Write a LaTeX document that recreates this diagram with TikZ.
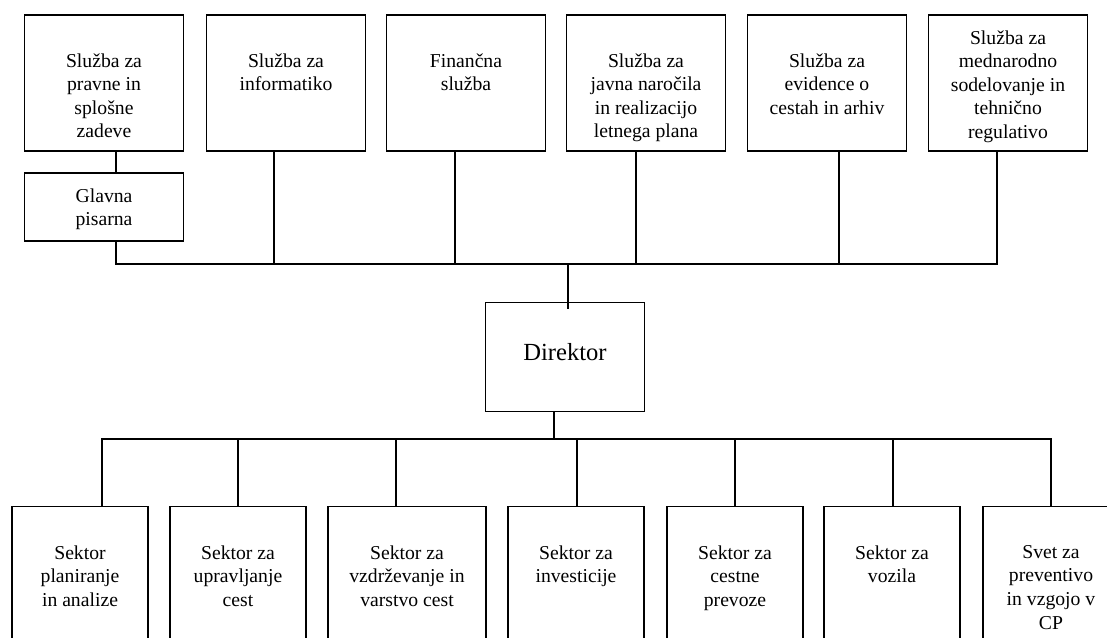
\documentclass[tikz,border=0pt]{standalone}
\usepackage{fontspec}
\setmainfont{Liberation Serif}

\tikzset{
  wire/.style={line width=0.9pt},
  unit/.style={draw, line width=0.9pt, inner sep=0pt, minimum width=3.18cm},
  sluzba/.style={unit, minimum height=2.72cm},
  sektor/.style={unit, minimum width=2.72cm, minimum height=3.06cm},
  lbl/.style={align=center, inner sep=0pt, anchor=north, font=\fontsize{11.2}{13.4}\selectfont},
}

\begin{document}
\begin{tikzpicture}[x=0.02cm, y=-0.02cm]
    \useasboundingbox (0,0) rectangle (1107,637);
    \clip (0,0) rectangle (1107,637);

    % Službe (zgornja vrsta)
    \node[sluzba] (s1) at (104,83) {};
    \node[sluzba] (s2) at (286,83) {};
    \node[sluzba] (s3) at (466,83) {};
    \node[sluzba] (s4) at (646,83) {};
    \node[sluzba] (s5) at (827,83) {};
    \node[sluzba] (s6) at (1008,83) {};
    \node[unit, minimum height=1.36cm] (gp) at (104,207) {};

    \node[lbl] (s1l) at (104,53) {Služba za\\pravne in\\splošne\\zadeve};
    \node[lbl] (s2l) at (286,53) {Služba za\\informatiko};
    \node[lbl] (s3l) at (466,53) {Finančna\\služba};
    \node[lbl] (s4l) at (646,53) {Služba za\\javna naročila\\in realizacijo\\letnega plana};
    \node[lbl] (s5l) at (827,53) {Služba za\\evidence o\\cestah in arhiv};
    \node[lbl] (s6l) at (1008,30) {Služba za\\mednarodno\\sodelovanje in\\tehnično\\regulativo};
    \node[lbl] (gpl) at (104,188) {Glavna\\pisarna};

    % Direktor
    \node[unit, minimum height=2.18cm, text depth=0.2cm,
          font=\fontsize{14}{17}\selectfont] (dir) at (565,357) {Direktor};

    % Sektorji (spodnja vrsta)
    \node[sektor] (k1) at (80,583) {};
    \node[sektor] (k2) at (238,583) {};
    \node[sektor, minimum width=3.16cm] (k3) at (407,583) {};
    \node[sektor] (k4) at (576,583) {};
    \node[sektor] (k5) at (735,583) {};
    \node[sektor] (k6) at (892,583) {};
    \node[sektor] (k7) at (1051,583) {};

    \node[lbl] (k1l) at (80,545) {Sektor\\planiranje\\in analize};
    \node[lbl] (k2l) at (238,545) {Sektor za\\upravljanje\\cest};
    \node[lbl] (k3l) at (407,545) {Sektor za\\vzdrževanje in\\varstvo cest};
    \node[lbl] (k4l) at (576,545) {Sektor za\\investicije};
    \node[lbl] (k5l) at (735,545) {Sektor za\\cestne\\prevoze};
    \node[lbl] (k6l) at (892,545) {Sektor za\\vozila};
    \node[lbl] (k7l) at (1051,545) {Svet za\\preventivo\\in vzgojo v\\CP};

    % Povezave zgoraj
    \coordinate (a1) at (116,264);
    \coordinate (a2) at (274,264);
    \coordinate (a3) at (455,264);
    \coordinate (a4) at (636,264);
    \coordinate (a5) at (839,264);
    \coordinate (a6) at (997,264);
    \coordinate (a0) at (568,264);
    \draw[wire] (a1 |- gp.south) -- (a1) -- (a6) -- (a6 |- s6.south);
    \draw[wire] (a1 |- s1.south) -- (a1 |- gp.north);
    \foreach \i in {2,...,5}
        \draw[wire] (a\i) -- (a\i |- s\i.south);
    \draw[wire, shorten >=-0.14cm] (a0) -- (a0 |- dir.north);

    % Povezave spodaj
    \coordinate (b0) at (554,439);
    \coordinate (b1) at (102,439);
    \coordinate (b2) at (238,439);
    \coordinate (b3) at (396,439);
    \coordinate (b4) at (577,439);
    \coordinate (b5) at (735,439);
    \coordinate (b6) at (893,439);
    \coordinate (b7) at (1051,439);
    \draw[wire] (dir.south -| b0) -- (b0);
    \draw[wire] (b1 |- k1.north) -- (b1) -- (b7) -- (b7 |- k7.north);
    \foreach \i in {2,...,6}
        \draw[wire] (b\i) -- (b\i |- k\i.north);
\end{tikzpicture}
\end{document}
